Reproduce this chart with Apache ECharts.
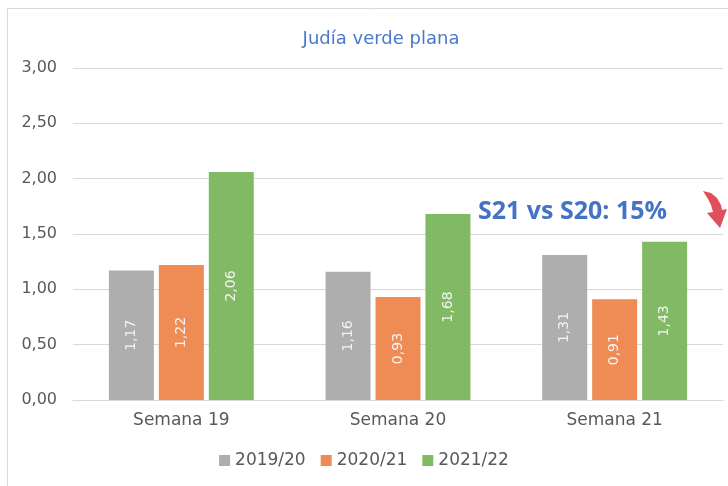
<!DOCTYPE html>
<html>
<head>
<meta charset="utf-8">
<script src="https://cdn.jsdelivr.net/npm/echarts@6/dist/echarts.min.js"></script>
<style>
  html, body { margin: 0; padding: 0; background: #fff; }
  #chart { width: 728px; height: 486px; }
</style>
</head>
<body>
<div id="chart"></div>
<script>
// datos
const semanas = ['Semana 19', 'Semana 20', 'Semana 21'];
const temp1920 = [1.17, 1.16, 1.31];
const temp2021 = [1.22, 0.93, 0.91];
const temp2122 = [2.06, 1.68, 1.43];
const nombres = ['2019/20', '2020/21', '2021/22'];
const colores = ['#aeaeae', '#ef8c55', '#82b964'];

const fuente = '"DejaVu Sans", sans-serif';
const fmt = v => v.toFixed(2).replace('.', ',');

function serie(i, data) {
  return {
    name: nombres[i],
    type: 'bar',
    data: data,
    barWidth: 45,
    barGap: '11%',
    itemStyle: { color: colores[i] },
    label: {
      show: true,
      position: 'inside',
      rotate: 90,
      color: '#f4f4f4',
      fontFamily: fuente,
      fontSize: 14,
      formatter: p => fmt(p.value)
    }
  };
}

const chart = echarts.init(document.getElementById('chart'));
chart.setOption({
  animation: false,
  textStyle: { fontFamily: fuente },
  title: {
    text: 'Judía verde plana',
    left: 376,
    top: 25,
    textAlign: 'center',
    textStyle: { color: '#4a78cc', fontSize: 18, fontWeight: 'normal', fontFamily: fuente }
  },
  legend: {
    bottom: 12,
    left: 'center',
    itemWidth: 11,
    itemHeight: 11,
    itemGap: 15,
    icon: 'rect',
    textStyle: { color: '#595959', fontSize: 17, fontFamily: fuente },
    data: nombres
  },
  grid: { left: 73, right: 5, top: 68, bottom: 86 },
  xAxis: {
    type: 'category',
    data: semanas,
    axisLine: { lineStyle: { color: '#d9d9d9', width: 1 } },
    axisTick: { show: false },
    axisLabel: { color: '#595959', fontSize: 17, margin: 12 }
  },
  yAxis: {
    type: 'value',
    min: 0,
    max: 3,
    interval: 0.5,
    axisLine: { show: false },
    axisTick: { show: false },
    splitLine: { lineStyle: { color: '#d9d9d9', width: 1 } },
    axisLabel: { color: '#595959', fontSize: 16, margin: 16, formatter: v => fmt(v) }
  },
  series: [serie(0, temp1920), serie(1, temp2021), serie(2, temp2122)],
  graphic: [
    {
      type: 'rect',
      shape: { x: 7.5, y: 8.5, width: 760, height: 500 },
      style: { fill: 'none', stroke: '#d9d9d9', lineWidth: 1 },
      silent: true
    },
    {
      type: 'text',
      x: 478,
      y: 199,
      style: {
        text: 'S21 vs S20: 15%',
        fill: '#4472c4',
        fontFamily: '"Open Sans"',
        fontWeight: 'bold',
        fontSize: 25
      }
    },
    {
      type: 'polygon',
      shape: {
        points: [[703, 191], [711, 193], [717, 198], [721, 205], [722, 210],
                 [727, 209], [720, 228], [707, 213], [713, 212], [711, 205],
                 [708, 199]]
      },
      style: { fill: '#e0505a' }
    }
  ]
});
</script>
</body>
</html>
